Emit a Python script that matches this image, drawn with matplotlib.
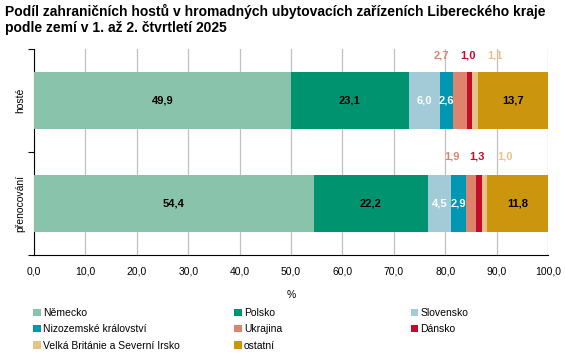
import matplotlib.pyplot as plt
from matplotlib.patches import Patch

plt.rcParams['font.family'] = ['Liberation Sans', 'DejaVu Sans']

kategorie = ["přenocování", "hosté"]
zeme = ["Německo", "Polsko", "Slovensko", "Nizozemské království", "Ukrajina",
        "Dánsko", "Velká Británie a Severní Irsko", "ostatní"]
hoste = [49.9, 23.1, 6.0, 2.6, 2.7, 1.0, 1.1, 13.7]
prenocovani = [54.4, 22.2, 4.5, 2.9, 1.9, 1.3, 1.0, 11.8]
barvy = ["#8AC3AC", "#00936F", "#A3CAD7", "#0097B3", "#DF846C",
         "#C10E28", "#E7C486", "#CB950E"]
barva_textu = ["black", "black", "white", "white", None, None, None, "black"]

fig = plt.figure(figsize=(5.65, 3.53), dpi=100)
ax = fig.add_axes([0.0602, 0.2776, 0.9098, 0.5834])

radky = [prenocovani, hoste]
posun = [-3.7, -0.4, 3.9]
for y, hodnoty in enumerate(radky):
    zleva = 0
    for i, v in enumerate(hodnoty):
        ax.barh(y, v, left=zleva, height=0.56, color=barvy[i], zorder=3)
        stred = zleva + v / 2
        if barva_textu[i]:
            ax.text(stred, y, f"{v:.1f}".replace(".", ","), ha="center", va="center",
                    fontsize=8, fontweight="bold", color=barva_textu[i], zorder=4)
        else:
            ax.text(stred + posun[i - 4], y + (0.44 if y == 1 else 0.46),
                    f"{v:.1f}".replace(".", ","), ha="center", va="center",
                    fontsize=8, fontweight="bold", color=barvy[i], zorder=4)
        zleva += v

ax.set_xlim(0, 100)
ax.set_ylim(-0.5, 1.5)
ax.set_xticks(range(0, 101, 10))
ax.set_xticklabels([f"{x:.1f}".replace(".", ",") for x in range(0, 101, 10)], fontsize=7.5)
ax.set_yticks([-0.5, 0.5, 1.5])
ax.set_yticklabels([])
ax.set_yticks([0, 1], minor=True)
ax.set_yticklabels(kategorie, minor=True, rotation=90, va="center", fontsize=7.5)
ax.tick_params(axis="y", which="minor", length=0, pad=6)
ax.tick_params(axis="y", which="major", length=4, direction="out")
ax.tick_params(axis="x", length=0, pad=8)
ax.grid(axis="x", color="#C0C0C0", linewidth=0.9, zorder=0)
for s in ["top", "right"]:
    ax.spines[s].set_visible(False)
ax.set_xlabel("%", fontsize=7.5, labelpad=10)

fig.text(0.009, 0.99, "Podíl zahraničních hostů v hromadných ubytovacích zařízeních Libereckého kraje\npodle zemí v 1. až 2. čtvrtletí 2025",
         fontsize=10, fontweight="bold", va="top", ha="left", linespacing=1.2)

sloupce = [[0, 3, 6], [1, 4, 7], [2, 5]]
xpoz = [0.059, 0.415, 0.727]
for x, idx in zip(xpoz, sloupce):
    handles = [Patch(facecolor=barvy[i], edgecolor="none", label=zeme[i]) for i in idx]
    fig.legend(handles=handles, loc="upper left", bbox_to_anchor=(x, 0.128),
               frameon=False, fontsize=7.5, handlelength=0.7, handleheight=0.7,
               handletextpad=0.2, labelspacing=0.62, borderaxespad=0, borderpad=0)

fig.savefig("out.png", dpi=100)
